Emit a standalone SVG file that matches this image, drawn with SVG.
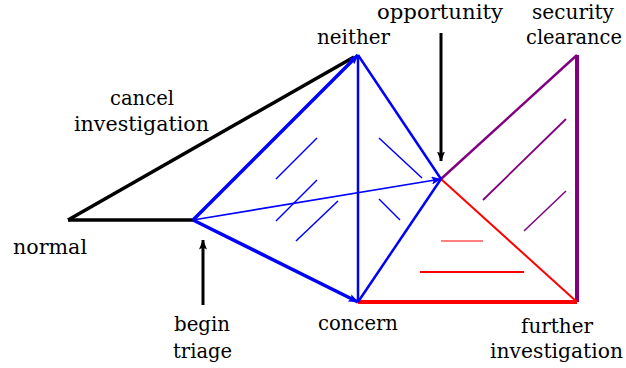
<svg xmlns="http://www.w3.org/2000/svg" width="626" height="368" viewBox="0 0 626 368">
  <style>
    text { font-family: "DejaVu Serif", "Liberation Serif", serif; font-size: 20px; fill: #000; text-anchor: middle; }
    line, path.l { fill: none; stroke-linecap: butt; }
    .k { stroke: #000; }
    .b { stroke: #0000ff; }
    .p { stroke: #800080; }
    .r { stroke: #ff0000; }
  </style>
  <defs>
    <marker id="ab" viewBox="0 0 10 8" markerUnits="userSpaceOnUse" markerWidth="10" markerHeight="8" refX="9.5" refY="4" orient="auto">
      <path d="M0,0 L10,4 L0,8 L2,4 Z" fill="#0000ff"/>
    </marker>
    <marker id="ak" viewBox="0 0 10 8" markerUnits="userSpaceOnUse" markerWidth="10" markerHeight="8" refX="9.5" refY="4" orient="auto">
      <path d="M0,0 L10,4 L0,8 L2,4 Z" fill="#000"/>
    </marker>
  </defs>
  <rect width="626" height="368" fill="#fff"/>

  <g id="connectors">
    <!-- black -->
    <line class="k" x1="68" y1="220" x2="354" y2="57" stroke-width="3.5"/>
    <line class="k" x1="68" y1="220" x2="193" y2="220" stroke-width="3.5"/>
    <!-- purple -->
    <line class="p" x1="441" y1="179" x2="577" y2="55" stroke-width="2.5"/>
    <line class="p" x1="577" y1="55" x2="577" y2="302" stroke-width="4"/>
    <line class="p" x1="483" y1="200" x2="566" y2="119" stroke-width="1.8"/>
    <line class="p" x1="524" y1="231" x2="566" y2="191" stroke-width="1.5"/>
    <!-- red -->
    <line class="r" x1="441" y1="179" x2="577" y2="302" stroke-width="2"/>
    <line class="r" x1="358" y1="302" x2="577" y2="302" stroke-width="4"/>
    <line class="r" x1="441" y1="241" x2="483" y2="241" stroke-width="1"/>
    <line class="r" x1="420" y1="272" x2="524" y2="272" stroke-width="2"/>
    <!-- blue -->
    <line class="b" x1="193" y1="220" x2="358" y2="55" stroke-width="3.5" marker-end="url(#ab)"/>
    <line class="b" x1="193" y1="220" x2="358" y2="302" stroke-width="3.5" marker-end="url(#ab)"/>
    <line class="b" x1="193" y1="220" x2="441" y2="179" stroke-width="1.6" marker-end="url(#ab)"/>
    <line class="b" x1="358" y1="55" x2="358" y2="302" stroke-width="2.5"/>
    <line class="b" x1="358" y1="55" x2="441" y2="179" stroke-width="2.5"/>
    <line class="b" x1="358" y1="302" x2="441" y2="179" stroke-width="2.5"/>
    <line class="b" x1="276" y1="179" x2="317" y2="138" stroke-width="1.5"/>
    <line class="b" x1="276" y1="221" x2="317" y2="180" stroke-width="1.5"/>
    <line class="b" x1="296" y1="241" x2="338" y2="201" stroke-width="1.5"/>
    <line class="b" x1="379" y1="138" x2="422" y2="178" stroke-width="1.5"/>
    <line class="b" x1="379" y1="199" x2="400" y2="220" stroke-width="1.5"/>
    <!-- pointer arrows -->
    <line class="k" x1="441" y1="33" x2="441" y2="161" stroke-width="3" marker-end="url(#ak)"/>
    <line class="k" x1="203" y1="305" x2="203" y2="240" stroke-width="3" marker-end="url(#ak)"/>
  </g>

  <g id="normal"><text x="50" y="254" textLength="74" lengthAdjust="spacingAndGlyphs">normal</text></g>
  <g id="cancel-investigation">
    <text x="142" y="105" textLength="64" lengthAdjust="spacingAndGlyphs">cancel</text>
    <text x="141.5" y="131" textLength="135" lengthAdjust="spacingAndGlyphs">investigation</text>
  </g>
  <g id="neither"><text x="353.5" y="44" textLength="73" lengthAdjust="spacingAndGlyphs">neither</text></g>
  <g id="opportunity"><text x="440" y="19" textLength="126" lengthAdjust="spacingAndGlyphs">opportunity</text></g>
  <g id="security-clearance">
    <text x="573" y="19" textLength="82" lengthAdjust="spacingAndGlyphs">security</text>
    <text x="574" y="44" textLength="96" lengthAdjust="spacingAndGlyphs">clearance</text>
  </g>
  <g id="begin-triage">
    <text x="202" y="331" textLength="56" lengthAdjust="spacingAndGlyphs">begin</text>
    <text x="202.5" y="358" textLength="59" lengthAdjust="spacingAndGlyphs">triage</text>
  </g>
  <g id="concern"><text x="358" y="330" textLength="80" lengthAdjust="spacingAndGlyphs">concern</text></g>
  <g id="further-investigation">
    <text x="557" y="333" textLength="72" lengthAdjust="spacingAndGlyphs">further</text>
    <text x="556.5" y="358" textLength="133" lengthAdjust="spacingAndGlyphs">investigation</text>
  </g>
</svg>
